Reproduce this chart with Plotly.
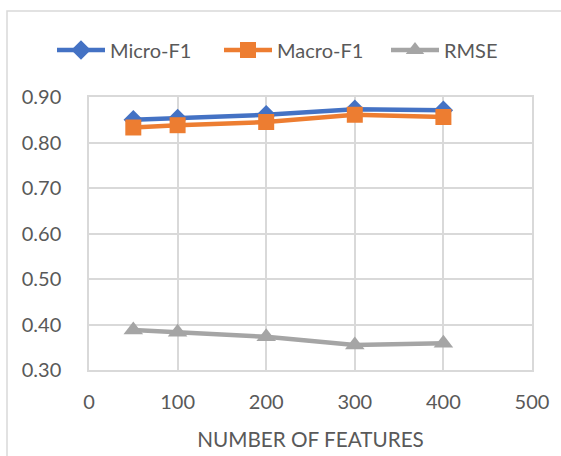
import plotly.graph_objects as go

features = [50, 100, 200, 300, 400]
micro_f1 = [0.850, 0.853, 0.861, 0.873, 0.871]
macro_f1 = [0.833, 0.838, 0.845, 0.861, 0.856]
rmse = [0.388, 0.383, 0.373, 0.355, 0.359]

W, H = 561, 456
L, R, T, B = 89, 29, 97, 86
pw, ph = W - L - R, H - T - B

font = "Lato, 'Open Sans', sans-serif"
grey_txt = "#595959"

fig = go.Figure()
fig.add_trace(go.Scatter(x=features, y=micro_f1, name="Micro-F1", mode="lines+markers",
                         line=dict(color="#4472C4", width=4.5),
                         marker=dict(symbol="diamond", size=15, color="#4472C4")))
fig.add_trace(go.Scatter(x=features, y=macro_f1, name="Macro-F1", mode="lines+markers",
                         line=dict(color="#ED7D31", width=4.5),
                         marker=dict(symbol="square", size=16, color="#ED7D31")))
fig.add_trace(go.Scatter(x=features, y=rmse, name="RMSE", mode="lines+markers",
                         line=dict(color="#A5A5A5", width=4.5),
                         marker=dict(symbol="triangle-up", size=17, color="#A5A5A5")))

# outer chart border
fig.add_shape(type="rect", xref="paper", yref="paper",
              x0=(7 - L) / pw, x1=(W + 20 - L) / pw,
              y0=-(B + 20) / ph, y1=1 + (T - 11) / ph,
              line=dict(color="#D9D9D9", width=1.5), fillcolor="rgba(0,0,0,0)", layer="below")

fig.update_layout(
    width=W, height=H,
    margin=dict(l=L, r=R, t=T, b=B, autoexpand=False),
    paper_bgcolor="white", plot_bgcolor="white",
    font=dict(family=font, color=grey_txt, size=20),
    showlegend=True,
    legend=dict(orientation="h",
                x=(52 - L) / pw, xanchor="left",
                y=1 + (T - 50) / ph, yanchor="middle",
                font=dict(size=20, color=grey_txt), itemwidth=48,
                entrywidth=104, entrywidthmode="pixels",
                bgcolor="rgba(0,0,0,0)"),
    xaxis=dict(range=[0, 500], tickvals=[0, 100, 200, 300, 400, 500],
               showgrid=True, gridcolor="#D9D9D9", gridwidth=1.5,
               zeroline=False, showline=True, linecolor="#D9D9D9", linewidth=1.5,
               mirror=True, ticks="outside", ticklen=13, tickcolor="rgba(0,0,0,0)",
               automargin=False, tickfont=dict(size=20, color=grey_txt),
               title=dict(text="NUMBER OF FEATURES", font=dict(size=20.7, color=grey_txt), standoff=21)),
    yaxis=dict(range=[0.3, 0.9], tickvals=[0.3, 0.4, 0.5, 0.6, 0.7, 0.8, 0.9],
               tickformat=".2f", showgrid=True, gridcolor="#D9D9D9", gridwidth=1.5,
               zeroline=False, showline=True, linecolor="#D9D9D9", linewidth=1.5,
               mirror=True, ticks="outside", ticklen=22, tickcolor="rgba(0,0,0,0)",
               automargin=False, tickfont=dict(size=20, color=grey_txt)),
)

fig.write_html("out.html", config={"displayModeBar": False},
               post_script="document.body.style.margin='0';document.body.style.overflow='hidden';")
